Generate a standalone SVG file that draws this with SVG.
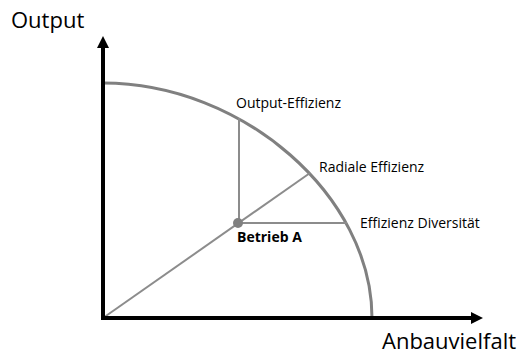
<svg xmlns="http://www.w3.org/2000/svg" width="519" height="356" viewBox="0 0 519 356">
<style>
.axis{stroke:#000;stroke-width:4;fill:none}
.frontier{stroke:#808080;stroke-width:3;fill:none}
.guide{stroke:#8c8c8c;stroke-width:2;fill:none}
text{font-family:"Open Sans","Liberation Sans",sans-serif;fill:#000}
.big{font-size:22px}
.lbl{font-size:14px}
.bold{font-size:14px;font-weight:bold}
</style>
<defs>
<marker id="ah" markerWidth="12" markerHeight="12" refX="1" refY="6" orient="auto" markerUnits="userSpaceOnUse" viewBox="0 0 12 12">
<path d="M0,0 L12,6 L0,12 Z" fill="#000"/>
</marker>
</defs>
<rect width="519" height="356" fill="#fff"/>
<g id="connectors">
<path id="frontier" class="frontier" d="M103,83 C243,83 372,196 372,318"/>
<line class="guide" x1="239" y1="118" x2="239" y2="223"/>
<line class="guide" x1="238" y1="223" x2="347" y2="223"/>
<line class="guide" x1="103" y1="318" x2="310" y2="173"/>
<line class="axis" x1="103" y1="320" x2="103" y2="47" marker-end="url(#ah)"/>
<line class="axis" x1="101" y1="318" x2="472" y2="318" marker-end="url(#ah)"/>
</g>
<g id="axis-y"><text class="big" x="11" y="28">Output</text></g>
<g id="axis-x"><text class="big" x="382" y="349">Anbauvielfalt</text></g>
<g id="output-effizienz"><text class="lbl" x="236" y="108">Output-Effizienz</text></g>
<g id="radiale-effizienz"><text class="lbl" x="319" y="172">Radiale Effizienz</text></g>
<g id="effizienz-diversitaet"><text class="lbl" x="360" y="228">Effizienz Diversität</text></g>
<g id="betrieb-a">
<circle cx="238" cy="223" r="5" fill="#808080"/>
<text class="bold" x="237" y="242">Betrieb A</text>
</g>
</svg>
